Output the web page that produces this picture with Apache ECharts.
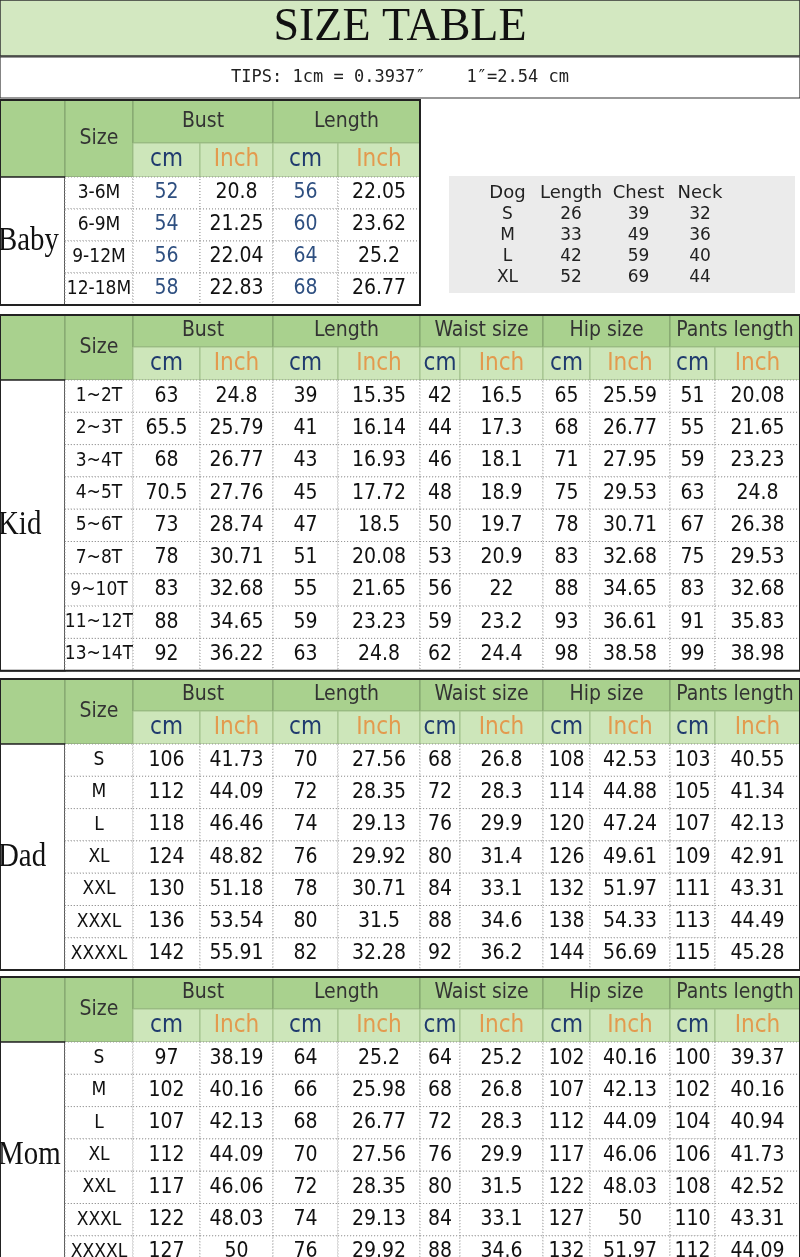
<!DOCTYPE html>
<html><head><meta charset="utf-8">
<script src="https://cdn.jsdelivr.net/npm/echarts@6/dist/echarts.min.js"></script>
<style>html,body{margin:0;padding:0;background:#fff}#c{width:800px;height:1257px}</style>
</head><body><div id="c"></div>
<script>
// ---- data ----
const title = "SIZE TABLE";
const tips = "TIPS: 1cm = 0.3937″    1″=2.54 cm";
const groupNames = ["Bust","Length","Waist size","Hip size","Pants length"];
const babySizes = ["3-6M","6-9M","9-12M","12-18M"];
const babyBustCm = ["52","54","56","58"];
const babyBustIn = ["20.8","21.25","22.04","22.83"];
const babyLenCm = ["56","60","64","68"];
const babyLenIn = ["22.05","23.62","25.2","26.77"];
const dogHeader = ["Dog","Length","Chest","Neck"];
const dogSizes = ["S","M","L","XL"];
const dogLength = ["26","33","42","52"];
const dogChest = ["39","49","59","69"];
const dogNeck = ["32","36","40","44"];
const kidSizes = ["1~2T","2~3T","3~4T","4~5T","5~6T","7~8T","9~10T","11~12T","13~14T"];
const kidBustCm = ["63","65.5","68","70.5","73","78","83","88","92"];
const kidBustIn = ["24.8","25.79","26.77","27.76","28.74","30.71","32.68","34.65","36.22"];
const kidLenCm = ["39","41","43","45","47","51","55","59","63"];
const kidLenIn = ["15.35","16.14","16.93","17.72","18.5","20.08","21.65","23.23","24.8"];
const kidWaistCm = ["42","44","46","48","50","53","56","59","62"];
const kidWaistIn = ["16.5","17.3","18.1","18.9","19.7","20.9","22","23.2","24.4"];
const kidHipCm = ["65","68","71","75","78","83","88","93","98"];
const kidHipIn = ["25.59","26.77","27.95","29.53","30.71","32.68","34.65","36.61","38.58"];
const kidPantsCm = ["51","55","59","63","67","75","83","91","99"];
const kidPantsIn = ["20.08","21.65","23.23","24.8","26.38","29.53","32.68","35.83","38.98"];
const dadSizes = ["S","M","L","XL","XXL","XXXL","XXXXL"];
const dadBustCm = ["106","112","118","124","130","136","142"];
const dadBustIn = ["41.73","44.09","46.46","48.82","51.18","53.54","55.91"];
const dadLenCm = ["70","72","74","76","78","80","82"];
const dadLenIn = ["27.56","28.35","29.13","29.92","30.71","31.5","32.28"];
const dadWaistCm = ["68","72","76","80","84","88","92"];
const dadWaistIn = ["26.8","28.3","29.9","31.4","33.1","34.6","36.2"];
const dadHipCm = ["108","114","120","126","132","138","144"];
const dadHipIn = ["42.53","44.88","47.24","49.61","51.97","54.33","56.69"];
const dadPantsCm = ["103","105","107","109","111","113","115"];
const dadPantsIn = ["40.55","41.34","42.13","42.91","43.31","44.49","45.28"];
const momSizes = ["S","M","L","XL","XXL","XXXL","XXXXL"];
const momBustCm = ["97","102","107","112","117","122","127"];
const momBustIn = ["38.19","40.16","42.13","44.09","46.06","48.03","50"];
const momLenCm = ["64","66","68","70","72","74","76"];
const momLenIn = ["25.2","25.98","26.77","27.56","28.35","29.13","29.92"];
const momWaistCm = ["64","68","72","76","80","84","88"];
const momWaistIn = ["25.2","26.8","28.3","29.9","31.5","33.1","34.6"];
const momHipCm = ["102","107","112","117","122","127","132"];
const momHipIn = ["40.16","42.13","44.09","46.06","48.03","50","51.97"];
const momPantsCm = ["100","102","104","106","108","110","112"];
const momPantsIn = ["39.37","40.16","40.94","41.73","42.52","43.31","44.09"];

// ---- layout ----
const NARROW = "'DejaVu Sans Condensed','Liberation Sans Narrow',sans-serif";
const SERIF = "'Liberation Serif','DejaVu Serif',serif";
const cells = [];
const labels = [];
function cell(x0,y0,x1,y1,o){cells.push(Object.assign({x0,y0,x1,y1},o));}
const edgesFull = [0,65,133,200,273,338,420,460,543,590,670,715,800];
function table(label, top, hA, hB, nRows, rowH, nGroups, sizes, cols, cmColor){
  const E = edgesFull.slice(0, 3 + nGroups*2);
  const h1 = top+hA, h2 = h1+hB, bottom = h2 + nRows*rowH;
  const hdr = {fill:'#a9d18e',stroke:'#7f9f6a',lw:1};
  cell(0,top,E[1],h2,hdr);
  cell(E[1],top,E[2],h2,Object.assign({text:'Size',font:21,family:NARROW,color:'#333'},hdr));
  for(let g=0;g<nGroups;g++){
    const a=E[2+g*2],b=E[3+g*2],c=E[4+g*2];
    cell(a,top,c,h1,Object.assign({text:groupNames[g],font:21,family:NARROW,color:'#333'},hdr));
    cell(a,h1,b,h2,{fill:'#cde6ba',stroke:'#9fbf88',lw:1,text:'cm',font:24,family:NARROW,color:'#1f3a6e'});
    cell(b,h1,c,h2,{fill:'#cde6ba',stroke:'#9fbf88',lw:1,text:'Inch',font:24,family:NARROW,color:'#e39a4e'});
  }
  cell(0,h2,E[1],bottom,{fill:'#fff',stroke:'#222',lw:1.5});
  for(let r=0;r<nRows;r++){
    const y0=h2+r*rowH,y1=y0+rowH;
    cell(E[1],y0,E[2],y1,{fill:'#fff',stroke:'#999',dash:true,text:sizes[r],font:19,family:NARROW,color:'#111'});
    for(let k=0;k<cols.length;k++){
      cell(E[2+k],y0,E[3+k],y1,{fill:'#fff',stroke:'#999',dash:true,text:cols[k][r],font:21,family:NARROW,
        color:(k%2===0 && cmColor)?cmColor:'#111'});
    }
  }
  cell(0,top,E[E.length-1],bottom,{fill:'none',stroke:'#222',lw:2});
  labels.push([0,h2,E[1],bottom,label]);
}
cell(0,0,800,56,{fill:'#d3e8c1',stroke:'#333',lw:1.5,text:title,font:46,family:SERIF,color:'#111'});
cell(0,57,800,98,{fill:'#fff',stroke:'#333',lw:1.2,text:tips,font:17,family:"'DejaVu Sans Mono',monospace",color:'#222'});
table('Baby',100,43,34,4,32,2,babySizes,[babyBustCm,babyBustIn,babyLenCm,babyLenIn],'#2e4f80');
cell(449,176,795,293,{fill:'#ebebeb'});
const dogCols=[dogSizes,dogLength,dogChest,dogNeck], dogX=[480,535,607,670,730];
for(let c=0;c<4;c++){
  cell(dogX[c],182,dogX[c+1],204,{text:dogHeader[c],font:18,family:"'DejaVu Sans',sans-serif",color:'#222'});
  for(let r=0;r<4;r++) cell(dogX[c],204+r*21,dogX[c+1],225+r*21,{text:dogCols[c][r],font:17,family:"'DejaVu Sans',sans-serif",color:'#222'});
}
table('Kid',315,32,33,9,32.3,5,kidSizes,[kidBustCm,kidBustIn,kidLenCm,kidLenIn,kidWaistCm,kidWaistIn,kidHipCm,kidHipIn,kidPantsCm,kidPantsIn]);
table('Dad',679,32,33,7,32.3,5,dadSizes,[dadBustCm,dadBustIn,dadLenCm,dadLenIn,dadWaistCm,dadWaistIn,dadHipCm,dadHipIn,dadPantsCm,dadPantsIn]);
table('Mom',977,32,33,7,32.3,5,momSizes,[momBustCm,momBustIn,momLenCm,momLenIn,momWaistCm,momWaistIn,momHipCm,momHipIn,momPantsCm,momPantsIn]);
for(const l of labels) cell(l[0],l[1],l[2],l[3],{text:l[4],font:34,family:SERIF,color:'#111',align:'left',pad:-2,sx:0.85});

const chart = echarts.init(document.getElementById('c'),null,{renderer:'canvas'});
chart.setOption({
  animation:false,
  grid:{left:0,right:0,top:0,bottom:0},
  xAxis:{type:'value',min:0,max:800,show:false},
  yAxis:{type:'value',min:0,max:1257,inverse:true,show:false},
  series:[{
    type:'custom',clip:false,
    data:cells.map(c=>[c.x0,c.y0,c.x1,c.y1]),
    renderItem:function(params,api){
      const c=cells[params.dataIndex];
      const p0=api.coord([api.value(0),api.value(1)]);
      const p1=api.coord([api.value(2),api.value(3)]);
      const x=p0[0],y=p0[1],w=p1[0]-p0[0],h=p1[1]-p0[1];
      const children=[];
      if(c.fill||c.stroke){
        children.push({type:'rect',shape:{x,y,width:w,height:h},
          style:{fill:c.fill&&c.fill!=='none'?c.fill:null,stroke:c.stroke||null,lineWidth:c.lw||1,lineDash:c.dash?[1,2]:null}});
      }
      if(c.text){
        const left=c.align==='left';
        const t={type:'text',style:{text:c.text,x:left?0:x+w/2,y:left?0:y+h/2,align:left?'left':'center',verticalAlign:'middle',
          font:c.font+'px '+c.family,fill:c.color}};
        if(left){t.x=x+(c.pad||0);t.y=y+h/2;t.scaleX=c.sx||1;}
        children.push(t);
      }
      return {type:'group',children};
    }
  }]
});
</script></body></html>
